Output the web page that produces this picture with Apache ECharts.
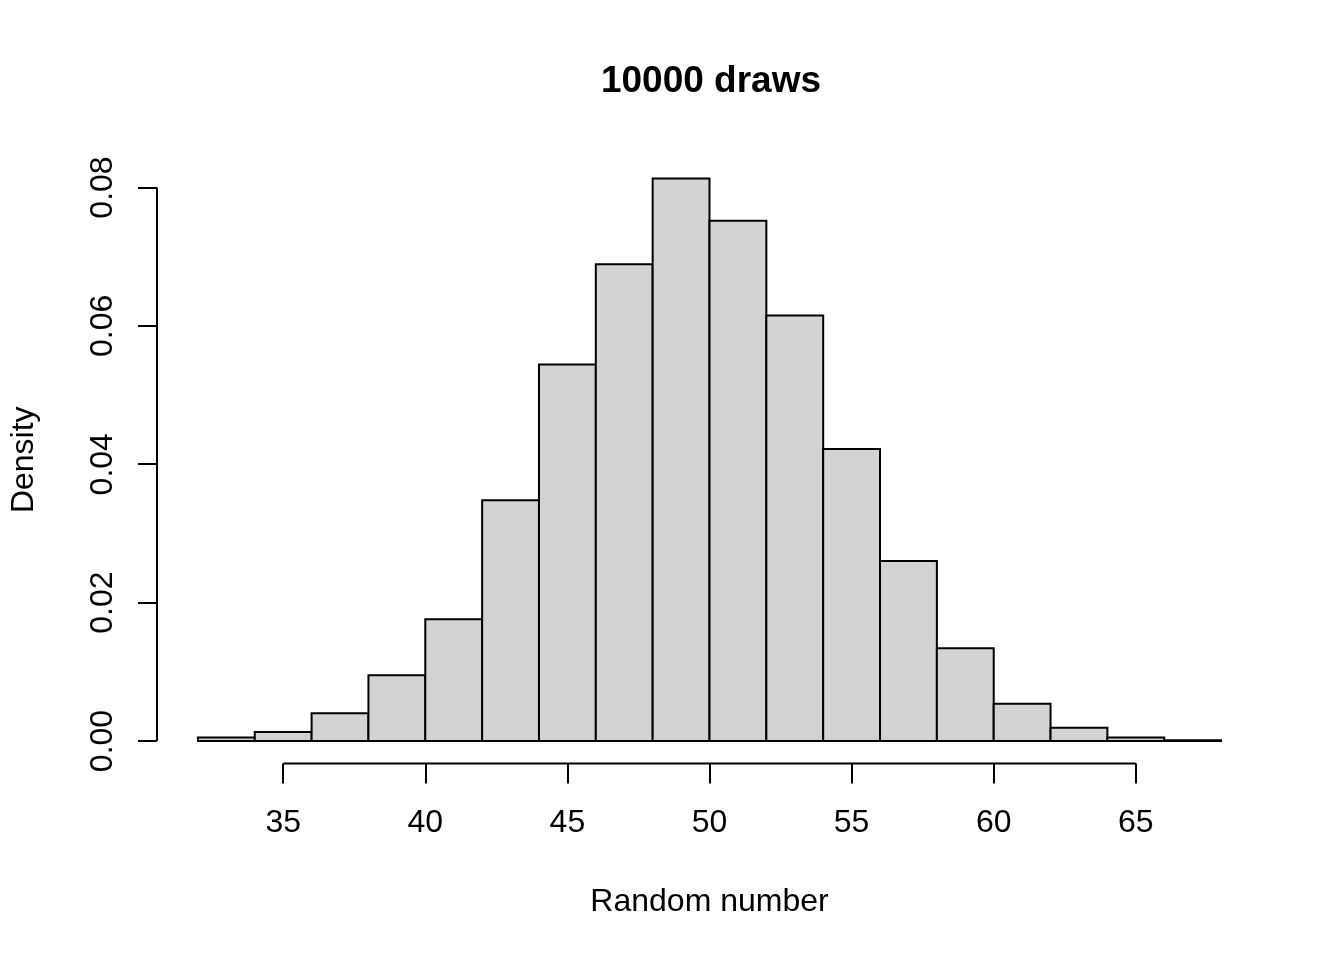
<!DOCTYPE html>
<html>
<head>
<meta charset="utf-8">
<script src="https://cdn.jsdelivr.net/npm/echarts@6/dist/echarts.min.js"></script>
<style>html,body{margin:0;padding:0;background:#fff}#c{width:1344px;height:960px}</style>
</head>
<body>
<div id="c"></div>
<script>
// Histogram bin edges and densities
const binStarts = [32,34,36,38,40,42,44,46,48,50,52,54,56,58,60,62,64,66];
const binEnds   = [34,36,38,40,42,44,46,48,50,52,54,56,58,60,62,64,66,68];
const densities = [0.0005,0.0013,0.0040,0.0095,0.0176,0.0348,0.0544,0.0689,0.0813,
                   0.0752,0.0615,0.0422,0.0260,0.0134,0.0054,0.0019,0.0005,0.0001];
const xTicks = [35,40,45,50,55,60,65];
const yTicks = [0,0.02,0.04,0.06,0.08];
const titleText = '10000 draws';
const xName = 'Random number';
const yName = 'Density';

const FONT = 'Liberation Sans, Arial, sans-serif';
const xLo = Math.min(...binStarts), xHi = Math.max(...binEnds);
const yHi = Math.max(...densities);
const xMin = xLo - 0.04*(xHi-xLo), xMax = xHi + 0.04*(xHi-xLo);
const yMin = -0.04*yHi, yMax = yHi*1.04;

const barData = binStarts.map((s,i)=>[s, binEnds[i], densities[i]]);

const chart = echarts.init(document.getElementById('c'), null, {renderer:'canvas'});
chart.setOption({
  backgroundColor:'#ffffff',
  animation:false,
  title:{text:titleText, left:706, top:58, textAlign:'center',
    textStyle:{fontFamily:FONT, fontSize:37, fontWeight:'bold', color:'#000'}},
  grid:{left:157, right:82, top:156, bottom:196.5, containLabel:false, outerBoundsMode:'none'},
  xAxis:{type:'value', min:xMin, max:xMax,
    axisLine:{show:false, onZero:false}, splitLine:{show:false},
    axisTick:{show:true, inside:false, length:20, customValues:xTicks, lineStyle:{color:'#000', width:2}},
    axisLabel:{show:true, customValues:xTicks, margin:44, color:'#000', fontFamily:FONT, fontSize:32},
    name:xName, nameLocation:'middle', nameGap:123,
    nameTextStyle:{fontFamily:FONT, fontSize:32, color:'#000', verticalAlign:'top'}},
  yAxis:{type:'value', min:yMin, max:yMax,
    axisLine:{show:false, onZero:false}, splitLine:{show:false},
    axisTick:{show:true, inside:false, length:19, customValues:yTicks, lineStyle:{color:'#000', width:2}},
    axisLabel:{show:true, customValues:yTicks, rotate:90, margin:38, color:'#000', fontFamily:FONT, fontSize:32,
      formatter:v=>v.toFixed(2)},
    name:yName, nameLocation:'middle', nameGap:117,
    nameTextStyle:{fontFamily:FONT, fontSize:32, color:'#000'}},
  series:[
    {type:'custom', data:barData, clip:false,
     renderItem:(params, api)=>{
       const p0 = api.coord([api.value(0), 0]);
       const p1 = api.coord([api.value(1), api.value(2)]);
       return {type:'rect', shape:{x:p0[0], y:p1[1], width:p1[0]-p0[0], height:p0[1]-p1[1]},
         style:{fill:'#D3D3D3', stroke:'#000', lineWidth:2}};
     }},
    {type:'line', data:[[xTicks[0], yMin],[xTicks[xTicks.length-1], yMin]], symbol:'none', clip:false,
     lineStyle:{color:'#000', width:2}, silent:true},
    {type:'line', data:[[xMin, yTicks[0]],[xMin, yTicks[yTicks.length-1]]], symbol:'none', clip:false,
     lineStyle:{color:'#000', width:2}, silent:true}
  ]
});
</script>
</body>
</html>
